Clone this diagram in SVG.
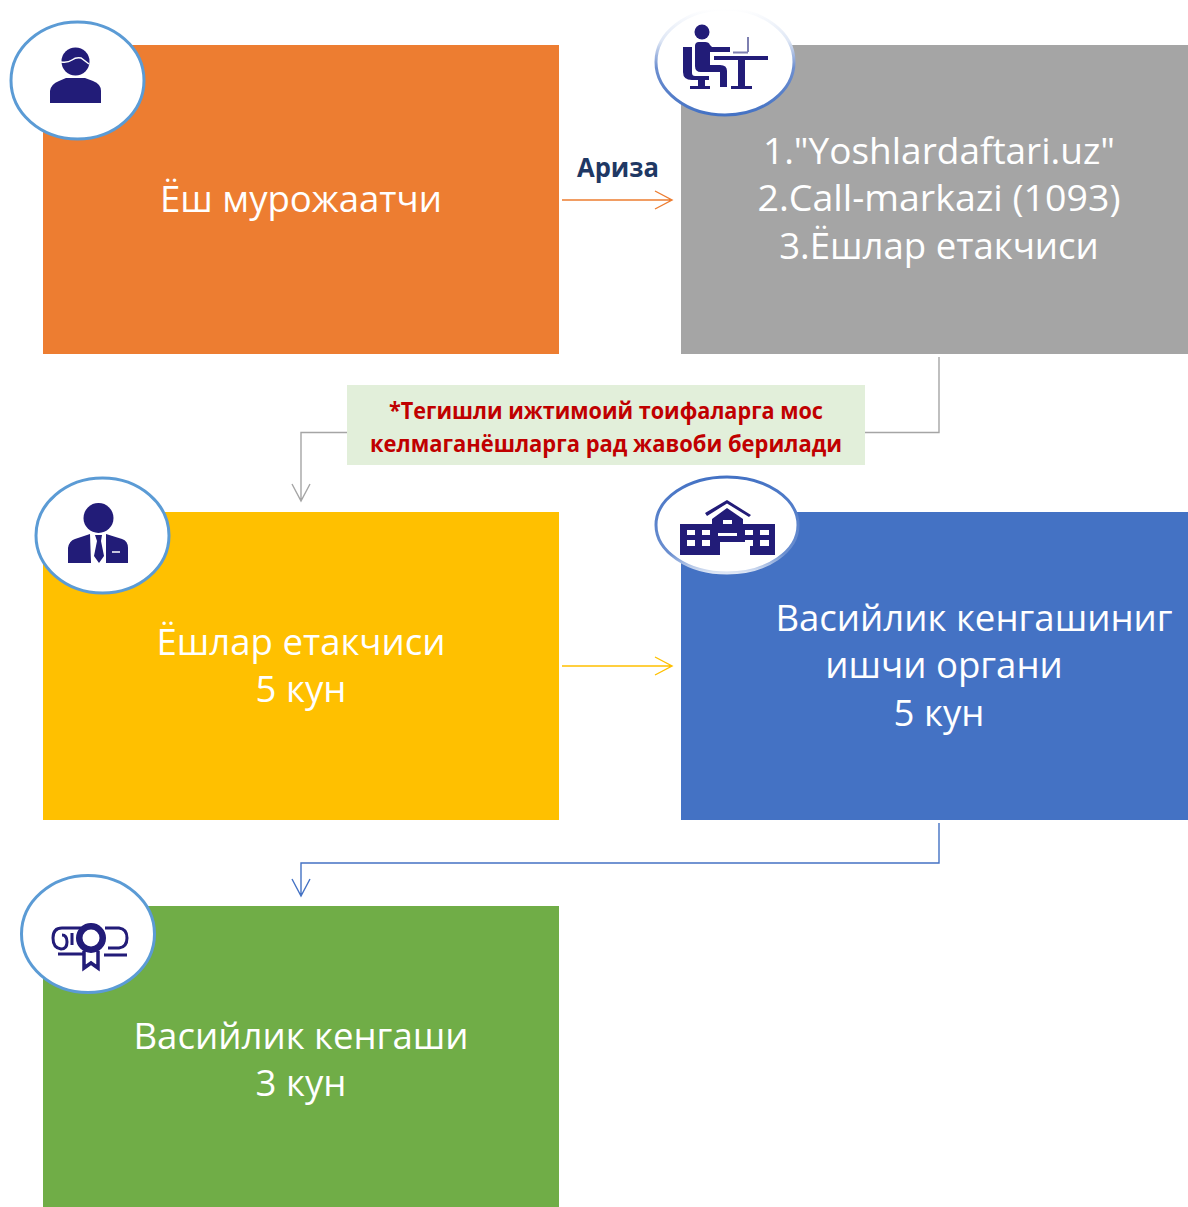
<svg xmlns="http://www.w3.org/2000/svg" width="1188" height="1207" viewBox="0 0 1188 1207">
<style>
.t{font-family:"Open Sans","Noto Sans",sans-serif;font-size:36.6px;fill:#fff;text-anchor:middle}
.c{fill:none;stroke-width:1.4}
.ring{fill:#fff;stroke:#5B9BD5;stroke-width:3}
.ic{fill:#201a78}
.w{fill:#fff}
.n{font-family:"Open Sans","Noto Sans",sans-serif;font-weight:700;text-anchor:middle}
</style>
<defs>
<linearGradient id="g" x1="0" y1="0" x2="0" y2="1"><stop offset="0" stop-color="#fff"/><stop offset=".3" stop-color="#dfe7f5"/><stop offset=".55" stop-color="#6f90d0"/><stop offset="1" stop-color="#4472C4"/></linearGradient>
<linearGradient id="h" x1="0" y1="0" x2="0" y2="1"><stop offset="0" stop-color="#4472C4"/><stop offset=".8" stop-color="#6b8fd0"/><stop offset="1" stop-color="#dfe7f5"/></linearGradient>
<filter id="b" x="-10%" y="-10%" width="120%" height="120%"><feGaussianBlur stdDeviation="0.6"/></filter>
</defs>
<g id="node-applicant"><rect x="43" y="45" width="516" height="309" fill="#ED7D31"/>
<text class="t" x="301" y="211.500">Ёш мурожаатчи</text>
<ellipse class="ring" cx="77.500" cy="80.500" rx="66.500" ry="58.500"/>
<g filter="url(#b)"><circle class="ic" cx="75.500" cy="61.500" r="14"/>
<path class="ic" d="M50 103V91Q51 84 59 81L66 78H85L93 81Q101 84 101 91V103Z"/>
<path d="M61 62Q68 63 72 60T81 58L89 64" fill="none" stroke="#fff" stroke-width="1.500"/></g></g>
<g id="node-channels"><rect x="681" y="45" width="507" height="309" fill="#A5A5A5"/>
<text class="t" x="939" y="164" textLength="352" lengthAdjust="spacingAndGlyphs">1."Yoshlardaftari.uz"</text>
<text class="t" x="939" y="211" textLength="363" lengthAdjust="spacingAndGlyphs">2.Call-markazi (1093)</text>
<text class="t" x="939" y="258.500">3.Ёшлар етакчиси</text>
<ellipse cx="725" cy="62" rx="69" ry="53" fill="#fff" stroke="url(#g)" stroke-width="3"/>
<g filter="url(#b)"><circle class="ic" cx="702" cy="32" r="7.500"/>
<path class="ic" d="M683 47h9v26q0 3 3 3h14v4h-4v6h5v3h-20v-3h8v-6h-6q-9 0-9-8z"/>
<path class="ic" d="M695 46q0-4 4-4h6q4 0 5 3l2 2h18v5h-20v13h10q7 0 7 6v16h-7V72h-19q-6 0-6-6z"/>
<path class="ic" d="M714 56h54v4h-23v26h7v3h-21v-3h7V60h-24z"/>
<path d="M748 37v15M733 52.500h15" stroke="#7d7fb0" stroke-width="2" fill="none"/></g></g>
<g id="node-leader"><rect x="43" y="512" width="516" height="308" fill="#FFC000"/>
<text class="t" x="301" y="654.500">Ёшлар етакчиси</text>
<text class="t" x="301" y="701.500">5 кун</text>
<ellipse class="ring" cx="102.500" cy="535.500" rx="66.500" ry="57.500"/>
<g filter="url(#b)"><circle class="ic" cx="98.500" cy="518" r="15"/>
<path class="ic" d="M68 563V548Q69 541 75 539L90 534L91 563ZM106 534L122 539Q128 541 128 548V563H106Z"/>
<path class="ic" d="M95 535h7l-1 6 3 15-5 7-5-7 3-15z"/>
<path d="M112 552h8" stroke="#fff" stroke-width="1.500"/></g></g>
<g id="node-working-body"><rect x="681" y="512" width="507" height="308" fill="#4472C4"/>
<text class="t" x="974" y="631">Васийлик кенгашиниг</text>
<text class="t" x="944" y="678">ишчи органи</text>
<text class="t" x="939" y="725.500">5 кун</text>
<ellipse cx="727" cy="525" rx="71" ry="48" fill="#fff" stroke="url(#h)" stroke-width="3"/>
<g filter="url(#b)"><path class="ic" d="M705 513L727 500L751 515L749 517L727 503.500L707 516Z"/>
<path class="ic" d="M680 524h32v-5l15-11 16 11v5h32v31h-25v-13h-16v13h-16v0h-13v-13h0v13h-25z"/>
<path class="w" d="M687 530h8v5h-8zM702 530h8v5h-8zM687 540h8v6h-8zM702 540h8v6h-8zM745 530h8v5h-8zM760 530h9v5h-9zM745 540h8v6h-8zM760 540h9v6h-9zM718 533h19v3h-19zM723 520h9v4h-9zM720 542h16v13h-16z"/></g></g>
<g id="node-council"><rect x="43" y="906" width="516" height="301" fill="#70AD47"/>
<text class="t" x="301" y="1049">Васийлик кенгаши</text>
<text class="t" x="301" y="1096">3 кун</text>
<ellipse class="ring" cx="88" cy="934" rx="66.500" ry="58.500"/>
<g filter="url(#b)"><g fill="none" stroke="#201a78" stroke-width="3">
<path d="M83 928H62Q53 928 53 938T61 949Q67 949 67 942T62 935M105 928H119Q127 929 127 938T119 948H108M58 954H83M104 955H127M72 933v12"/></g>
<circle class="ic" cx="91" cy="938" r="15"/><circle class="w" cx="91" cy="938" r="8.500"/>
<path d="M84 951V968L91 963L98 968V951" fill="none" stroke="#201a78" stroke-width="3.500"/></g></g>
<g id="connectors" class="connectors">
<path class="c" stroke="#ED7D31" d="M562 200H672M655 191L672 200L655 209"/>
<path class="c" stroke="#FFC000" d="M562 666H672M655 657L672 666L655 675"/>
<path class="c" stroke="#A5A5A5" d="M939 357V432.500H301V501M292 484L301 501L310 484"/>
<path class="c" stroke="#4472C4" d="M939 823V863H301V896M292 879L301 896L310 879"/>
</g>
<g id="label-application"><text class="n" x="618" y="177" font-size="27" fill="#1F3864" textLength="82" lengthAdjust="spacingAndGlyphs">Ариза</text></g>
<g id="label-note"><rect x="347" y="385" width="518" height="80" fill="#E2EFDA"/>
<text class="n" x="606" y="419" font-size="23" fill="#C00000" textLength="434" lengthAdjust="spacingAndGlyphs">*Тегишли ижтимоий тоифаларга мос</text>
<text class="n" x="606" y="451.500" font-size="23" fill="#C00000" textLength="472" lengthAdjust="spacingAndGlyphs">келмаганёшларга рад жавоби берилади</text></g>
</svg>
